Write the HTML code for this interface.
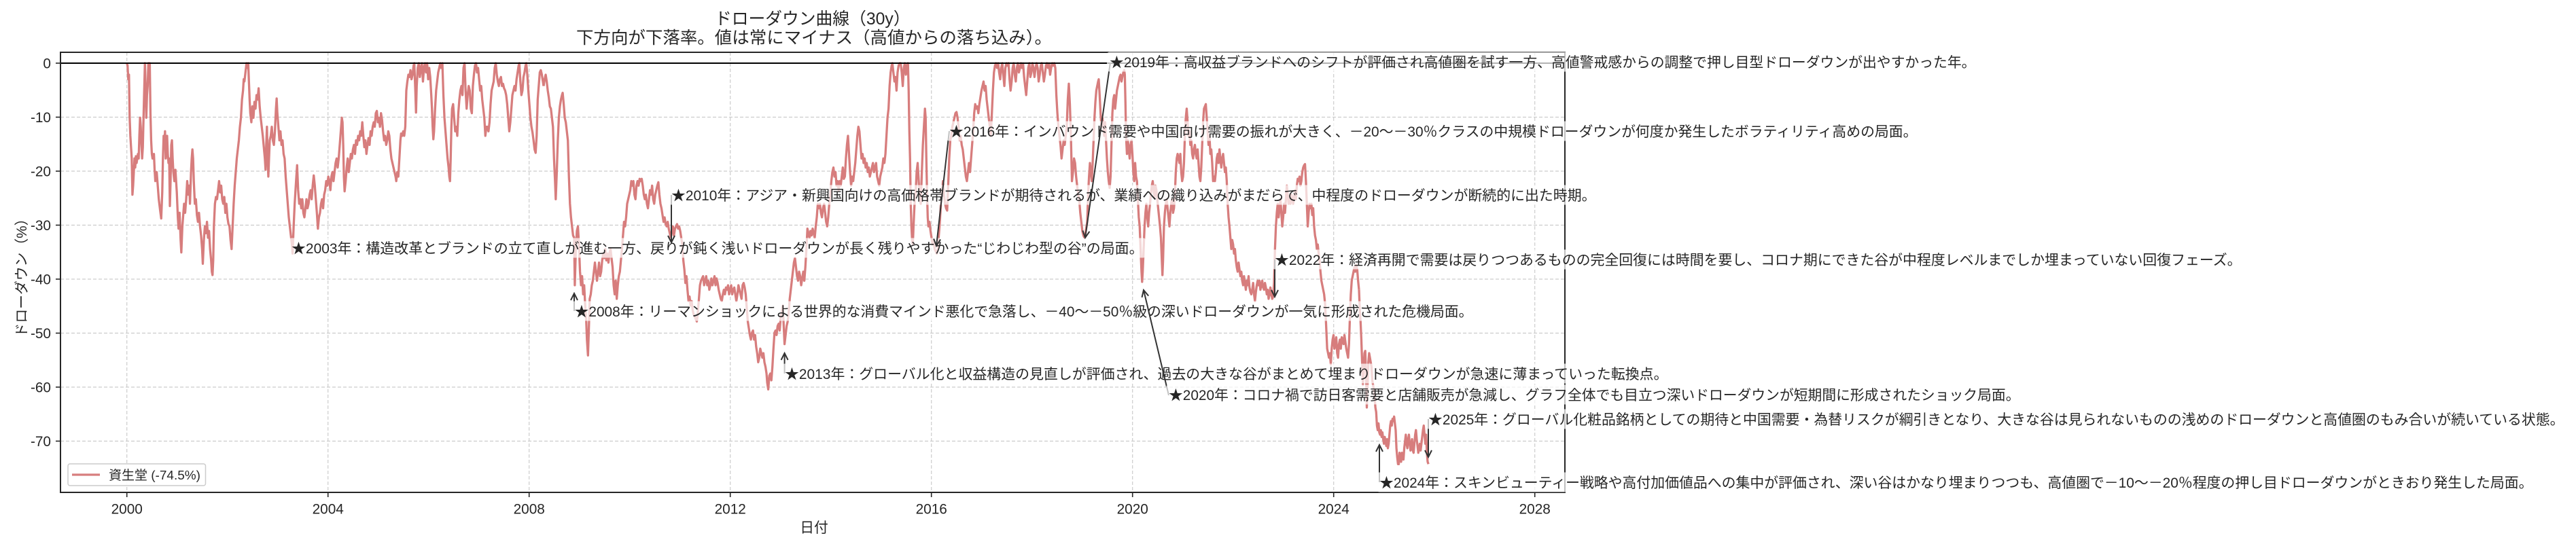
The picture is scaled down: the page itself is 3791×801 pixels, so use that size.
<!DOCTYPE html>
<html><head><meta charset="utf-8"><style>
html,body{margin:0;padding:0;background:#fff;width:3791px;height:801px;overflow:hidden}
svg{display:block}
text{font-family:"Liberation Sans","Noto Sans CJK JP",sans-serif;fill:#262626}
.ann{font-size:20.83px}
.tk{font-size:20.8px}
</style></head><body>
<svg xmlns="http://www.w3.org/2000/svg" width="3791" height="801" viewBox="0 0 3791 801">
<rect x="0" y="0" width="3791" height="801" fill="#fff"/>
<!-- title -->
<text x="1052" y="36" font-size="25" textLength="287.5" lengthAdjust="spacingAndGlyphs">ドローダウン曲線（30y）</text>
<text x="848" y="64" font-size="25" textLength="700" lengthAdjust="spacingAndGlyphs">下方向が下落率。値は常にマイナス（高値からの落ち込み）。</text>
<!-- grid -->
<g stroke="#cccccc" stroke-width="1.2" stroke-dasharray="5 3" fill="none">
<line x1="89" y1="172.5" x2="2303" y2="172.5"/><line x1="89" y1="252" x2="2303" y2="252"/>
<line x1="89" y1="331.5" x2="2303" y2="331.5"/><line x1="89" y1="411" x2="2303" y2="411"/>
<line x1="89" y1="490.5" x2="2303" y2="490.5"/><line x1="89" y1="570" x2="2303" y2="570"/>
<line x1="89" y1="649.5" x2="2303" y2="649.5"/>
<line x1="186.7" y1="77" x2="186.7" y2="725"/><line x1="482.7" y1="77" x2="482.7" y2="725"/>
<line x1="778.7" y1="77" x2="778.7" y2="725"/><line x1="1074.7" y1="77" x2="1074.7" y2="725"/>
<line x1="1370.7" y1="77" x2="1370.7" y2="725"/><line x1="1666.7" y1="77" x2="1666.7" y2="725"/>
<line x1="1962.7" y1="77" x2="1962.7" y2="725"/><line x1="2258.7" y1="77" x2="2258.7" y2="725"/>
</g>
<!-- data line -->
<g fill="none" stroke="rgb(215,125,125)" stroke-width="3.3" stroke-linejoin="round">
<path vector-effect="non-scaling-stroke" transform="matrix(0.5102 0 0 0.33333 0 0)" d="M366,279 L368,290 L370,350 L372,330 L374,520 L376,600 L378,650 L380,700 L382,860 L384,820 L386,760 L388,700 L390,740 L392,690 L394,720 L396,700 L398,680 L400,700 L402,600 L404,520 L406,560 L408,640 L410,700 L412,650 L414,520 L416,400 L418,279 L420,380 L422,520 L424,420 L426,380 L428,279 L430,350 L432,279 L434,500 L436,620 L438,680 L440,700 L444,680 L446,750 L448,800 L452,760 L455,820 L458,880 L462,930 L465,965 L468,850 L470,700 L472,600 L474,650 L476,580 L478,700 L480,640 L482,600 L484,680 L486,720 L488,700 L490,910 L492,800 L494,640 L496,620 L498,700 L500,760 L503,800 L506,750 L510,850 L513,960 L515,1010 L518,940 L521,1060 L523,1115 L526,1000 L528,960 L531,900 L534,940 L537,880 L540,800 L543,860 L546,820 L548,900 L551,760 L553,700 L555,660 L557,700 L559,800 L562,900 L565,880 L568,950 L571,980 L574,940 L577,1000 L580,1040 L583,1100 L585,1165 L588,1060 L591,1000 L594,1030 L597,980 L600,1050 L603,1020 L606,1100 L609,1150 L611,1200 L613,1215 L615,1150 L617,1000 L620,900 L623,870 L626,880 L629,840 L632,800 L635,850 L638,820 L641,880 L644,900 L647,870 L650,940 L653,900 L656,960 L659,990 L662,1000 L665,1060 L668,1100 L671,1000 L674,900 L677,820 L680,760 L683,700 L686,660 L689,620 L692,560 L695,520 L698,440 L701,400 L703,350 L705,360 L708,320 L711,279 L714,300 L716,279 L718,360 L720,440 L722,500 L725,540 L728,470 L731,520 L734,450 L737,480 L740,420 L743,440 L746,390 L749,470 L752,520 L755,560 L758,600 L761,650 L764,700 L766,750 L768,640 L770,560 L772,700 L774,780 L776,700 L778,620 L781,600 L784,560 L787,620 L790,640 L793,580 L796,480 L798,435 L800,500 L803,560 L806,620 L809,580 L812,640 L815,620 L818,680 L821,700 L824,780 L827,840 L830,900 L833,960 L836,1000 L839,1040 L842,1080 L844,1120 L847,1000 L850,900 L854,800 L857,730 L860,840 L863,900 L866,880 L869,920 L872,880 L875,940 L878,960 L881,920 L884,880 L887,920 L890,900 L893,860 L896,840 L899,880 L902,820 L905,775 L908,820 L911,880 L914,940 L917,1010 L920,960 L923,940 L926,900 L929,880 L932,920 L935,860 L938,840 L941,800 L944,820 L947,780 L950,800 L953,840 L956,780 L959,760 L962,800 L965,760 L968,720 L971,700 L974,740 L977,700 L980,640 L983,580 L986,520 L988,540 L990,640 L992,780 L994,845 L997,800 L1000,740 L1003,700 L1006,760 L1009,720 L1012,680 L1015,700 L1018,660 L1021,640 L1024,680 L1027,620 L1030,640 L1033,600 L1036,620 L1039,580 L1042,600 L1045,540 L1048,600 L1051,650 L1054,620 L1057,680 L1060,640 L1063,610 L1066,640 L1069,580 L1072,600 L1075,560 L1078,540 L1081,560 L1084,500 L1087,490 L1090,540 L1093,520 L1096,560 L1099,500 L1102,530 L1105,580 L1108,620 L1111,600 L1114,640 L1117,620 L1120,580 L1123,600 L1126,660 L1129,700 L1132,720 L1135,740 L1138,760 L1141,780 L1143,800 L1146,760 L1149,780 L1152,700 L1155,620 L1157,590 L1160,600 L1163,580 L1166,600 L1169,560 L1172,400 L1175,360 L1178,330 L1181,340 L1184,310 L1187,350 L1190,330 L1193,290 L1195,279 L1198,400 L1200,497 L1202,380 L1205,300 L1208,279 L1211,340 L1214,300 L1217,279 L1220,360 L1223,300 L1226,279 L1229,320 L1232,279 L1235,350 L1238,300 L1241,340 L1244,420 L1246,480 L1248,560 L1250,615 L1252,580 L1255,480 L1258,400 L1261,360 L1264,320 L1267,300 L1270,279 L1273,300 L1276,279 L1279,420 L1282,520 L1285,580 L1288,640 L1291,700 L1294,740 L1296,780 L1298,800 L1300,700 L1302,560 L1304,480 L1307,460 L1310,520 L1313,580 L1316,560 L1319,600 L1322,500 L1325,440 L1328,400 L1331,380 L1334,420 L1337,300 L1340,279 L1343,400 L1346,480 L1349,420 L1352,380 L1355,400 L1358,480 L1361,500 L1364,380 L1367,330 L1370,290 L1373,279 L1376,320 L1379,300 L1382,350 L1385,400 L1388,380 L1391,440 L1394,480 L1397,520 L1400,600 L1403,560 L1406,560 L1409,580 L1412,540 L1415,460 L1418,400 L1421,380 L1424,360 L1427,300 L1430,279 L1433,330 L1436,360 L1439,380 L1442,350 L1445,340 L1448,380 L1451,370 L1454,390 L1457,400 L1460,420 L1463,460 L1466,520 L1469,580 L1472,540 L1475,480 L1478,420 L1481,400 L1484,380 L1487,400 L1490,350 L1493,320 L1496,290 L1498,279 L1501,360 L1504,420 L1507,400 L1510,340 L1513,320 L1516,290 L1518,279 L1521,330 L1524,400 L1527,460 L1530,520 L1533,560 L1536,585 L1539,620 L1542,660 L1545,675 L1548,600 L1551,440 L1554,380 L1557,320 L1560,310 L1563,330 L1566,360 L1568,380"/>
<path vector-effect="non-scaling-stroke" transform="matrix(0.5102 0 0 0.33333 800 0)" d="M0,380 L3,350 L6,330 L9,360 L12,400 L15,430 L18,470 L21,480 L24,520 L27,560 L30,700 L33,800 L35,880 L38,760 L41,620 L44,520 L47,470 L50,440 L53,420 L55,410 L58,460 L61,520 L64,540 L67,580 L70,620 L73,780 L76,900 L79,960 L82,1000 L85,1040 L88,1050 L90,1260 L93,1100 L96,1020 L99,1000 L102,1080 L105,1200 L108,1260 L111,1220 L114,1300 L117,1260 L120,1350 L123,1420 L125,1500 L128,1570 L130,1480 L133,1320 L136,1300 L139,1260 L142,1240 L145,1200 L148,1160 L151,1200 L154,1240 L157,1200 L160,1160 L163,1220 L166,1200 L169,1150 L172,1120 L175,1140 L178,1100 L181,1150 L184,1120 L187,1160 L190,1120 L193,1100 L196,1140 L199,1180 L202,1260 L205,1300 L208,1240 L211,1320 L214,1260 L217,1220 L220,1200 L223,1150 L226,1100 L229,1040 L232,980 L235,1000 L238,960 L241,900 L244,880 L247,860 L250,840 L253,800 L256,820 L259,800 L262,860 L265,880 L268,820 L271,800 L274,820 L277,790 L280,800 L283,790 L286,820 L289,860 L292,880 L295,860 L298,900 L301,920 L304,880 L307,840 L310,860 L313,820 L316,880 L319,900 L322,860 L325,840 L328,820 L331,805 L334,860 L337,900 L340,920 L343,950 L346,980 L349,960 L352,990 L355,1000 L358,980 L361,1010 L364,1030 L367,1050 L370,1020 L373,1000 L376,1040 L379,1010 L382,1000 L385,990 L388,1010 L391,1000 L394,1020 L397,1050 L400,1080 L403,1150 L406,1190 L409,1250 L412,1220 L415,1280 L418,1330 L421,1310 L424,1350 L427,1330 L430,1370 L433,1390 L436,1400 L439,1410 L442,1420 L445,1380 L448,1320 L451,1260 L454,1240 L457,1230 L460,1220 L463,1260 L466,1240 L469,1220 L472,1260 L475,1240 L478,1280 L481,1260 L484,1230 L487,1260 L490,1240 L493,1220 L496,1260 L499,1230 L502,1250 L505,1280 L508,1300 L511,1320 L514,1330 L517,1300 L520,1280 L523,1300 L526,1270 L529,1280 L532,1260 L535,1300 L538,1280 L541,1260 L544,1300 L547,1280 L550,1270 L553,1300 L556,1330 L559,1300 L562,1260 L565,1280 L568,1300 L571,1320 L574,1260 L577,1250 L580,1270 L583,1300 L586,1360 L589,1420 L592,1450 L595,1480 L598,1500 L601,1470 L604,1460 L607,1500 L610,1480 L613,1530 L616,1560 L619,1600 L622,1580 L625,1540 L628,1560 L631,1580 L634,1560 L637,1600 L640,1620 L643,1650 L645,1690 L648,1720 L651,1660 L654,1650 L657,1680 L660,1620 L663,1540 L666,1470 L669,1460 L672,1480 L675,1440 L678,1430 L681,1460 L684,1400 L687,1380 L690,1350 L692,1420 L695,1520 L698,1480 L701,1440 L704,1420 L707,1380 L710,1320 L713,1280 L716,1240 L719,1200 L722,1160 L725,1140 L728,1180 L731,1220 L734,1240 L737,1200 L740,1220 L743,1260 L746,1230 L749,1200 L752,1240 L755,1180 L758,1100 L761,1010 L764,1030 L767,1050 L770,1020 L773,1040 L776,1010 L779,1030 L782,1050 L785,1000 L788,960 L791,900 L794,920 L797,900 L800,940 L803,960 L806,920 L809,900 L812,940 L815,980 L818,1000 L821,960 L824,900 L827,860 L830,800 L833,760 L836,740 L839,780 L842,760 L845,820 L848,800 L851,840 L854,800 L857,820 L860,780 L863,740 L866,790 L869,780 L872,700 L875,640 L878,600 L881,680 L884,760 L887,820 L890,780 L893,800 L896,760 L899,720 L902,660 L905,600 L908,560 L911,580 L914,640 L917,700 L920,680 L923,720 L926,700 L929,740 L932,720 L935,760 L938,740 L941,780 L944,760 L947,740 L950,720 L953,760 L956,740 L959,720 L962,780 L965,800 L968,820 L971,780 L974,760 L977,740 L980,700 L983,720 L986,680 L989,600 L992,520 L995,480 L998,380 L1001,320 L1004,290 L1006,279 L1009,320 L1012,360 L1015,340 L1018,400 L1021,320 L1024,290 L1027,279 L1030,279 L1033,320 L1036,380 L1039,300 L1042,279 L1045,330 L1048,290 L1051,279 L1053,400 L1055,580 L1057,700 L1059,900 L1061,1000 L1063,1060 L1065,1080 L1067,1000 L1070,900 L1073,860 L1076,760 L1079,720 L1082,800 L1085,880 L1088,900 L1091,760 L1094,640 L1097,560 L1100,480 L1102,520 L1104,700 L1106,850 L1108,960 L1110,1000 L1113,980 L1116,1020 L1119,1050 L1122,1080 L1125,1060 L1128,1100 L1131,1110 L1134,1120 L1137,1100 L1140,1040 L1143,980 L1146,900 L1149,860 L1152,800 L1155,860 L1158,900 L1161,920 L1164,930 L1167,820 L1170,700 L1173,620 L1176,600 L1179,560 L1182,540 L1185,520 L1188,500 L1191,495 L1194,520 L1197,560 L1200,620 L1203,600 L1206,640 L1209,660 L1212,700 L1215,740 L1218,780 L1221,800 L1224,760 L1227,720 L1230,760 L1233,700 L1236,640 L1239,580 L1242,500 L1245,460 L1248,480 L1251,470 L1254,500 L1257,460 L1260,430 L1263,400 L1266,380 L1269,360 L1272,400 L1275,380 L1278,440 L1281,480 L1284,520 L1287,560 L1290,600 L1293,500 L1296,400 L1299,320 L1302,290 L1305,279 L1308,300 L1311,279 L1314,320 L1317,350 L1320,300 L1323,279 L1326,330 L1329,380 L1332,300 L1335,279 L1338,290 L1341,279 L1344,350 L1347,400 L1350,360 L1353,300 L1356,279 L1359,330 L1362,360 L1365,300 L1368,279 L1371,320 L1374,300 L1377,279 L1380,300 L1383,280 L1386,340 L1389,380 L1392,420 L1395,360 L1398,300 L1401,279 L1404,340 L1407,320 L1410,279 L1413,300 L1416,340 L1419,300 L1422,279 L1425,300 L1428,360 L1431,330 L1434,290 L1437,279 L1440,320 L1443,360 L1446,330 L1449,290 L1452,279 L1455,300 L1458,280 L1461,330 L1464,300 L1467,279 L1470,290 L1473,279 L1476,300 L1479,420 L1482,500 L1485,560 L1488,600 L1491,640 L1494,700 L1497,660 L1500,620 L1503,640 L1506,600 L1509,560 L1512,440 L1515,370 L1518,460 L1521,600 L1524,800 L1527,760 L1530,700 L1533,720 L1536,780 L1539,820 L1542,860 L1545,880 L1548,940 L1551,980 L1554,1020 L1557,1040 L1560,1050 L1563,1030 L1566,1000 L1568,980"/>
<path vector-effect="non-scaling-stroke" transform="matrix(0.44643 0 0 0.33333 1300 0)" d="M672,980 L675,860 L678,780 L681,720 L684,760 L687,800 L690,720 L693,620 L696,520 L699,450 L702,400 L705,380 L708,360 L710,350 L713,420 L716,500 L719,560 L722,520 L725,560 L728,600 L731,540 L734,620 L737,700 L740,760 L743,800 L746,830 L749,780 L752,640 L755,500 L758,440 L761,420 L764,480 L767,440 L770,400 L773,380 L776,360 L779,340 L782,330 L785,360 L788,340 L791,320 L794,310 L796,330 L798,450 L800,600 L803,680 L806,620 L809,660 L812,700 L815,640 L818,620 L821,680 L824,760 L827,800 L830,720 L833,780 L836,800 L839,880 L842,960 L845,1000 L848,1100 L851,1200 L853,1245 L855,1200 L858,1100 L861,1000 L864,940 L867,900 L870,960 L873,1000 L876,940 L879,900 L882,860 L885,820 L888,800 L891,840 L894,870 L897,820 L900,840 L903,880 L906,920 L909,960 L912,1000 L915,1050 L918,1150 L920,1215 L922,1150 L925,1000 L928,940 L931,900 L934,880 L937,920 L940,960 L943,1000 L946,940 L949,900 L952,880 L955,940 L958,920 L961,860 L964,760 L967,700 L970,680 L973,700 L976,720 L979,680 L982,760 L985,800 L988,780 L991,720 L994,600 L997,520 L1000,480 L1003,540 L1006,600 L1009,580 L1012,640 L1015,620 L1018,680 L1021,700 L1024,660 L1027,640 L1030,680 L1033,700 L1036,660 L1039,720 L1042,780 L1045,800 L1048,740 L1051,640 L1054,540 L1057,480 L1060,470 L1063,460 L1066,520 L1069,580 L1072,640 L1075,600 L1078,680 L1081,660 L1084,720 L1087,800 L1090,780 L1093,800 L1096,760 L1099,700 L1102,680 L1105,720 L1108,660 L1111,700 L1114,740 L1117,700 L1120,680 L1123,720 L1126,760 L1129,740 L1132,800 L1135,900 L1138,960 L1141,1000 L1144,1050 L1147,1100 L1150,1060 L1153,1080 L1156,1120 L1159,1100 L1162,1150 L1165,1180 L1168,1200 L1171,1160 L1174,1190 L1177,1220 L1180,1200 L1183,1240 L1186,1260 L1189,1220 L1192,1250 L1195,1280 L1198,1240 L1201,1260 L1204,1220 L1207,1270 L1210,1290 L1213,1300 L1216,1280 L1219,1250 L1222,1300 L1225,1330 L1228,1290 L1231,1260 L1234,1240 L1237,1260 L1240,1240 L1243,1280 L1246,1260 L1249,1240 L1252,1270 L1255,1280 L1258,1250 L1261,1270 L1264,1300 L1267,1280 L1270,1320 L1273,1300 L1276,1270 L1279,1300 L1282,1320 L1285,1310 L1288,1250 L1291,1100 L1294,1000 L1297,940 L1300,900 L1303,960 L1306,920 L1309,880 L1312,940 L1315,1000 L1318,960 L1321,900 L1324,940 L1327,880 L1330,820 L1333,860 L1336,900 L1339,880 L1342,900 L1345,860 L1348,880 L1351,900 L1354,870 L1357,840 L1360,880 L1363,820 L1366,790 L1369,800 L1372,780 L1375,820 L1378,800 L1381,760 L1384,740 L1387,730 L1390,725 L1393,800 L1396,900 L1399,1000 L1402,940 L1405,900 L1408,920 L1411,900 L1414,950 L1417,920 L1420,1000 L1423,1040 L1426,1060 L1429,1100 L1432,1080 L1435,1120 L1438,1150 L1441,1200 L1444,1240 L1447,1260 L1450,1280 L1453,1300 L1456,1340 L1459,1420 L1461,1480 L1463,1540 L1466,1560 L1469,1580 L1472,1560 L1475,1610 L1478,1540 L1481,1500 L1484,1480 L1487,1540 L1490,1520 L1493,1490 L1496,1560 L1499,1580 L1502,1520 L1505,1500 L1508,1540 L1511,1490 L1514,1500 L1517,1520 L1520,1480 L1523,1510 L1526,1540 L1529,1560 L1532,1580 L1535,1520 L1538,1400 L1541,1300 L1544,1240 L1547,1220 L1550,1200 L1553,1180 L1556,1200 L1559,1170 L1562,1190 L1565,1240 L1568,1280"/>
<path vector-effect="non-scaling-stroke" transform="matrix(0.57398 0 0 0.33333 2000 0)" d="M0,1280 L2,1370 L4,1420 L6,1500 L8,1600 L10,1700 L12,1620 L14,1560 L16,1550 L18,1650 L20,1800 L22,1700 L24,1600 L26,1560 L28,1580 L30,1600 L32,1620 L34,1680 L36,1700 L38,1720 L40,1750 L42,1800 L44,1820 L46,1880 L48,1900 L50,1870 L52,1910 L54,1920 L56,1900 L58,1930 L60,1910 L62,1940 L64,1960 L66,1930 L68,1950 L70,1970 L72,1940 L74,1980 L76,1960 L78,1920 L80,1880 L82,1860 L84,1880 L86,1850 L88,1860 L90,1840 L92,1870 L94,1900 L96,1980 L98,2020 L100,2050 L102,2050 L104,2000 L106,2020 L108,2040 L110,2000 L112,2010 L114,2030 L116,1980 L118,1950 L120,1920 L122,1960 L124,1980 L126,1940 L128,1920 L130,1960 L132,1990 L134,1960 L136,1940 L138,1990 L140,2000 L142,1960 L144,1920 L146,1900 L148,1940 L150,1970 L152,2000 L154,1980 L156,1960 L158,1990 L160,1960 L162,1930 L164,1900 L166,1880 L168,1920 L170,1960 L172,1920 L174,2000 L176,2040 L178,2050"/>
</g>
<!-- zero line -->
<line x1="89" y1="93" x2="2303" y2="93" stroke="#000" stroke-width="2"/>
<!-- spines -->
<g stroke="#262626" stroke-width="2" fill="none">
<rect x="89" y="77" width="2214" height="648"/>
</g>
<!-- ticks -->
<g stroke="#262626" stroke-width="1.6">
<line x1="82" y1="93" x2="89" y2="93"/><line x1="82" y1="172.5" x2="89" y2="172.5"/>
<line x1="82" y1="252" x2="89" y2="252"/><line x1="82" y1="331.5" x2="89" y2="331.5"/>
<line x1="82" y1="411" x2="89" y2="411"/><line x1="82" y1="490.5" x2="89" y2="490.5"/>
<line x1="82" y1="570" x2="89" y2="570"/><line x1="82" y1="649.5" x2="89" y2="649.5"/>
<line x1="186.7" y1="725" x2="186.7" y2="732"/><line x1="482.7" y1="725" x2="482.7" y2="732"/>
<line x1="778.7" y1="725" x2="778.7" y2="732"/><line x1="1074.7" y1="725" x2="1074.7" y2="732"/>
<line x1="1370.7" y1="725" x2="1370.7" y2="732"/><line x1="1666.7" y1="725" x2="1666.7" y2="732"/>
<line x1="1962.7" y1="725" x2="1962.7" y2="732"/><line x1="2258.7" y1="725" x2="2258.7" y2="732"/>
</g>
<g class="tk" text-anchor="end">
<text class="tk" x="75" y="100.5">0</text>
<text class="tk" x="75" y="180">-10</text>
<text class="tk" x="75" y="259.5">-20</text>
<text class="tk" x="75" y="339">-30</text>
<text class="tk" x="75" y="418.5">-40</text>
<text class="tk" x="75" y="498">-50</text>
<text class="tk" x="75" y="577.5">-60</text>
<text class="tk" x="75" y="657">-70</text>
</g>
<g text-anchor="middle">
<text class="tk" x="186.7" y="756.5">2000</text>
<text class="tk" x="482.7" y="756.5">2004</text>
<text class="tk" x="778.7" y="756.5">2008</text>
<text class="tk" x="1074.7" y="756.5">2012</text>
<text class="tk" x="1370.7" y="756.5">2016</text>
<text class="tk" x="1666.7" y="756.5">2020</text>
<text class="tk" x="1962.7" y="756.5">2024</text>
<text class="tk" x="2258.7" y="756.5">2028</text>
<text class="tk" x="1198" y="784">日付</text>
</g>
<text class="tk" text-anchor="middle" transform="translate(39,404) rotate(-90)">ドローダウン（%）</text>
<!-- legend -->
<rect x="100" y="683" width="202.5" height="32" rx="3" fill="#fff" fill-opacity="0.9" stroke="#cccccc" stroke-width="1.5"/>
<line x1="106" y1="699" x2="147" y2="699" stroke="rgb(215,125,125)" stroke-width="3.3"/>
<text x="160" y="706" font-size="18.75" textLength="135" lengthAdjust="spacingAndGlyphs">資生堂 (-74.5%)</text>
<!-- annotations -->
<rect x="425" y="350.5" width="1261.5" height="29" rx="4" fill="#fff" fill-opacity="0.7"/>
<text class="ann" x="429" y="373" textLength="1253.5" lengthAdjust="spacingAndGlyphs">★2003年：構造改革とブランドの立て直しが進む一方、戻りが鈍く浅いドローダウンが長く残りやすかった“じわじわ型の谷”の局面。</text>

<g stroke="#333" stroke-width="2" fill="none"><line x1="845" y1="458" x2="845" y2="432"/><polyline points="840,442 845,432 850,442"/></g>
<rect x="841.5" y="443.5" width="1330" height="29" rx="4" fill="#fff" fill-opacity="0.7"/>
<text class="ann" x="845.5" y="466" textLength="1322" lengthAdjust="spacingAndGlyphs">★2008年：リーマンショックによる世界的な消費マインド悪化で急落し、－40～－50％級の深いドローダウンが一気に形成された危機局面。</text>

<g stroke="#333" stroke-width="2" fill="none"><line x1="988" y1="287" x2="988" y2="357"/><polyline points="983,347 988,357 993,347"/></g>
<rect x="984" y="272.5" width="1368.5" height="29" rx="4" fill="#fff" fill-opacity="0.7"/>
<text class="ann" x="988" y="295" textLength="1360.5" lengthAdjust="spacingAndGlyphs">★2010年：アジア・新興国向けの高価格帯ブランドが期待されるが、業績への織り込みがまだらで、中程度のドローダウンが断続的に出た時期。</text>

<g stroke="#333" stroke-width="2" fill="none"><line x1="1154.6" y1="550" x2="1154.6" y2="520"/><polyline points="1149.6,530 1154.6,520 1159.6,530"/></g>
<rect x="1151" y="535.5" width="1307.5" height="29" rx="4" fill="#fff" fill-opacity="0.7"/>
<text class="ann" x="1155" y="558" textLength="1299.5" lengthAdjust="spacingAndGlyphs">★2013年：グローバル化と収益構造の見直しが評価され、過去の大きな谷がまとめて埋まりドローダウンが急速に薄まっていった転換点。</text>

<g stroke="#333" stroke-width="2" fill="none"><line x1="1397" y1="193" x2="1378" y2="362"/><polyline points="1384.1,352.6 1378,362 1374.1,351.5"/></g>
<rect x="1393" y="178.5" width="1432.5" height="29" rx="4" fill="#fff" fill-opacity="0.7"/>
<text class="ann" x="1397" y="201" textLength="1424.5" lengthAdjust="spacingAndGlyphs">★2016年：インバウンド需要や中国向け需要の振れが大きく、－20～－30％クラスの中規模ドローダウンが何度か発生したボラティリティ高めの局面。</text>

<g stroke="#333" stroke-width="2" fill="none"><line x1="1634" y1="92" x2="1597" y2="350"/><polyline points="1603.4,340.8 1597,350 1593.5,339.4"/></g>
<rect x="1629" y="76.5" width="1282.5" height="29" rx="4" fill="#fff" fill-opacity="0.7"/>
<text class="ann" x="1633" y="99" textLength="1274.5" lengthAdjust="spacingAndGlyphs">★2019年：高収益ブランドへのシフトが評価され高値圏を試す一方、高値警戒感からの調整で押し目型ドローダウンが出やすかった年。</text>

<g stroke="#333" stroke-width="2" fill="none"><line x1="1720" y1="582" x2="1683" y2="427"/><polyline points="1690.2,435.6 1683,427 1680.5,437.9"/></g>
<rect x="1716" y="566.5" width="1260.5" height="29" rx="4" fill="#fff" fill-opacity="0.7"/>
<text class="ann" x="1720" y="589" textLength="1252.5" lengthAdjust="spacingAndGlyphs">★2020年：コロナ禍で訪日客需要と店舗販売が急減し、グラフ全体でも目立つ深いドローダウンが短期間に形成されたショック局面。</text>

<g stroke="#333" stroke-width="2" fill="none"><line x1="1876" y1="382" x2="1876" y2="437"/><polyline points="1871,427 1876,437 1881,427"/></g>
<rect x="1872" y="367.5" width="1430.5" height="29" rx="4" fill="#fff" fill-opacity="0.7"/>
<text class="ann" x="1876" y="390" textLength="1422.5" lengthAdjust="spacingAndGlyphs">★2022年：経済再開で需要は戻りつつあるものの完全回復には時間を要し、コロナ期にできた谷が中程度レベルまでしか埋まっていない回復フェーズ。</text>

<g stroke="#333" stroke-width="2" fill="none"><line x1="2030" y1="710" x2="2030" y2="655"/><polyline points="2025,665 2030,655 2035,665"/></g>
<rect x="2026" y="695.5" width="1705.5" height="29" rx="4" fill="#fff" fill-opacity="0.7"/>
<text class="ann" x="2030" y="718" textLength="1697.5" lengthAdjust="spacingAndGlyphs">★2024年：スキンビューティー戦略や高付加価値品への集中が評価され、深い谷はかなり埋まりつつも、高値圏で－10～－20％程度の押し目ドローダウンがときおり発生した局面。</text>

<g stroke="#333" stroke-width="2" fill="none"><line x1="2102" y1="617" x2="2102" y2="673"/><polyline points="2097,663 2102,673 2107,663"/></g>
<rect x="2098" y="602.5" width="1679.5" height="29" rx="4" fill="#fff" fill-opacity="0.7"/>
<text class="ann" x="2102" y="625" textLength="1671.5" lengthAdjust="spacingAndGlyphs">★2025年：グローバル化粧品銘柄としての期待と中国需要・為替リスクが綱引きとなり、大きな谷は見られないものの浅めのドローダウンと高値圏のもみ合いが続いている状態。</text>
</svg>
</body></html>
